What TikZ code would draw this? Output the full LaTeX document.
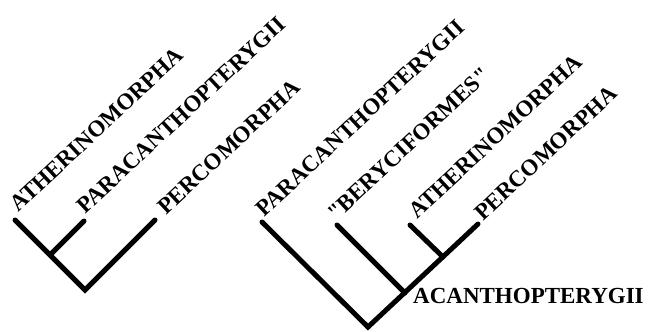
\documentclass[tikz,border=0pt]{standalone}
\usepackage{fontspec}
\setmainfont{Liberation Serif}[Ligatures=TeXOff]
\begin{document}
\begin{tikzpicture}[x=1pt, y=-1pt]
\useasboundingbox (0,0) rectangle (648,332);

\tikzset{taxon/.style={rotate=43, anchor=base west, inner sep=0pt, font=\fontsize{23}{25}\selectfont\bfseries}}
\tikzset{branch/.style={line width=5pt, line cap=round, line join=miter}}

% left tree
\coordinate (lroot) at (85,290);
\coordinate (lclade) at (50,255);
\coordinate (lather) at (15,220);
\coordinate (lpara) at (84,221);
\coordinate (lperc) at (155,220);
\node[taxon] (latherlab) at (18,213) {ATHERINOMORPHA};
\node[taxon] (lparalab) at (85,215) {PARACANTHOPTERYGII};
\node[taxon] (lperclab) at (166,216) {PERCOMORPHA};

\draw[branch] (lather) -- (lroot) -- (lperc);
\draw[branch] (lclade) -- (lpara);

% right tree
\coordinate (rroot) at (368,327);
\coordinate (acan) at (405,293);
\coordinate (rclade) at (443,257);
\coordinate (rpara) at (262,222);
\coordinate (rbery) at (337,225);
\coordinate (rather) at (410,225);
\coordinate (rperc) at (478,224);
\node[taxon] (rparalab) at (264,218) {PARACANTHOPTERYGII};
\node[taxon] (rberylab) at (336,222) {"BERYCIFORMES"};
\node[taxon] (ratherlab) at (417,220) {ATHERINOMORPHA};
\node[taxon] (rperclab) at (483,222) {PERCOMORPHA};
\node[anchor=west, inner sep=0pt, xshift=8pt, yshift=-3pt, font=\fontsize{23}{25}\selectfont\bfseries] (acanlab) at (acan) {ACANTHOPTERYGII};

\draw[branch] (rpara) -- (rroot) -- (rperc);
\draw[branch] (acan) -- (rbery);
\draw[branch] (rclade) -- (rather);
\end{tikzpicture}
\end{document}
